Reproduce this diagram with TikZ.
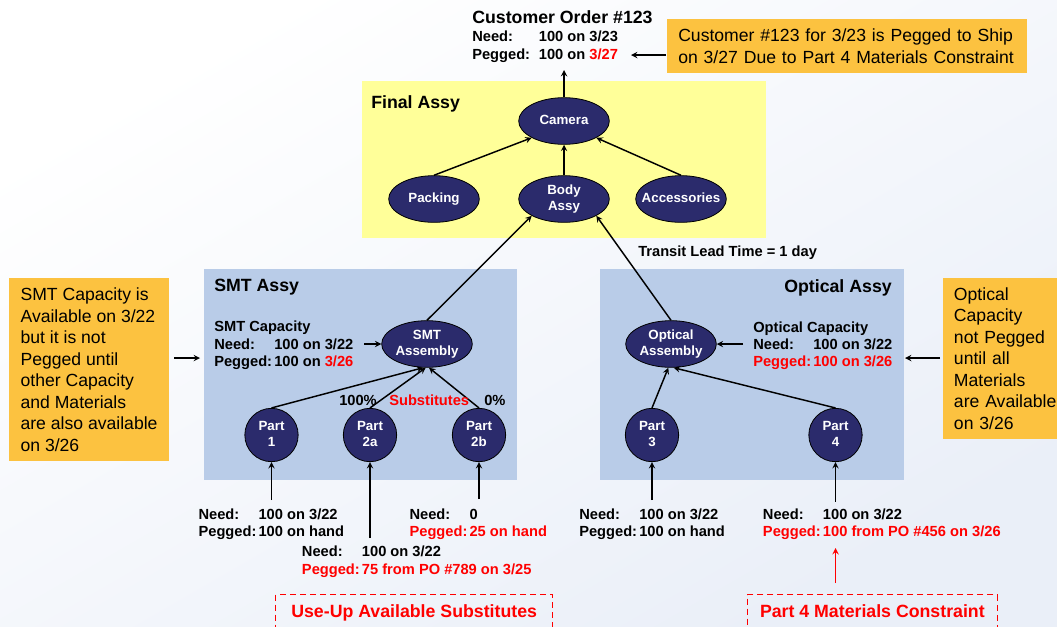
\documentclass[tikz,border=0pt]{standalone}
\usepackage{fontspec}
\setmainfont{Liberation Sans}
\usetikzlibrary{positioning,shapes.geometric,arrows.meta}
\definecolor{navy}{RGB}{43,43,108}
\definecolor{notebg}{RGB}{252,194,64}
\definecolor{finalbg}{RGB}{255,255,153}
\definecolor{subbg}{RGB}{185,204,232}
\definecolor{flag}{RGB}{255,0,0}
\definecolor{paper}{RGB}{234,239,248}
\newcommand{\stack}[1]{\makebox[0pt]{\begin{tabular}{@{}c@{}}#1\end{tabular}}}
\newcommand{\hot}[1]{\textcolor{flag}{#1}}
\tikzset{>=stealth,
  item/.style={ellipse,draw=black,line width=0.6pt,fill=navy,text=white,inner sep=0pt,
    minimum width=68pt,minimum height=35pt,font=\bfseries\fontsize{10}{11.8}\selectfont},
  part/.style={circle,draw=black,line width=0.6pt,fill=navy,text=white,inner sep=0pt,
    minimum size=40pt,font=\bfseries\fontsize{10}{11.8}\selectfont},
  info/.style={anchor=base west,inner sep=0pt,font=\bfseries\fontsize{11}{13.1}\selectfont},
  title/.style={anchor=base west,inner sep=0pt,font=\bfseries\fontsize{13.3}{16}\selectfont},
  note/.style={fill=notebg,anchor=north west,align=left,inner xsep=8.25pt,
    font=\fontsize{13.2}{16.1}\selectfont},
  constraint/.style={draw=flag,line width=1pt,dash pattern=on 4.5pt off 3pt,text=flag,
    anchor=north west,font=\bfseries\fontsize{13.3}{16}\selectfont,
    text height=9.5pt,text depth=25pt,inner ysep=7.5pt},
  link/.style={->,line width=1.1pt}}
\begin{document}
\begin{tikzpicture}[x=0.75pt,y=-0.75pt]
\useasboundingbox (0,0) rectangle (1057,626);
\shade[top color=white,bottom color=paper,shading angle=30] (0,0) rectangle (1057,626);
% group boxes
\fill[finalbg] (362,81) rectangle (766,238);
\fill[subbg] (204,269) rectangle (517,480);
\fill[subbg] (600,269) rectangle (904,480);
\node[title] (finaltitle) at (371,108) {Final Assy};
\node[title] (smttitle) at (214,291.7) {SMT Assy};
\node[title,anchor=base east] (opttitle) at (892,292) {Optical Assy};
% customer order
\node[title] (order) at (472,23.3) {Customer Order \#123};
\node[info] (orderpeg) at (472,41.7) {\begin{tabular}[t]{@{}p{50pt}@{}l@{}}
Need: & 100 on 3/23\\[0.6pt] Pegged: & 100 on \hot{3/27}\end{tabular}};
\coordinate (ordertip) at (564,70);
% final assy
\node[item] (cam) at (564,121) {\stack{Camera}};
\node[item] (pack) at (434,199) {\stack{Packing}};
\node[item] (body) at (564,199) {\stack{Body\\Assy}};
\node[item] (acc) at (681,199) {\stack{Accessories}};
\draw[link] (cam) -- (ordertip);
\draw[link] (pack.north) -- (cam.south west);
\draw[link] (body) -- (cam);
\draw[link] (acc.north) -- (cam.south east);
\node[info] (transit) at (638,256.7) {Transit Lead Time = 1 day};
% SMT assy
\node[item] (smt) at (427,344) {\stack{SMT\\Assembly}};
\node[info] (smtcap) at (214,331.7) {\begin{tabular}[t]{@{}p{45pt}@{}l@{}}
\multicolumn{2}{@{}l@{}}{SMT Capacity}\\ Need: & 100 on 3/22\\ Pegged: & 100 on \hot{3/26}\end{tabular}};
\coordinate (smtcapend) at (364,344);
\draw[link] (smtcapend) -- (smt.west);
\node[part] (p1) at (271.5,435) {\stack{Part\\1}};
\node[part] (p2a) at (370,435) {\stack{Part\\2a}};
\node[part] (p2b) at (479,435) {\stack{Part\\2b}};
\draw[link] (p1.north) -- ([xshift=-3pt]smt.south);
\draw[link] (p2a.north) -- ([xshift=-1pt]smt.south);
\draw[link] (p2b.north) -- ([xshift=1.5pt]smt.south);
\draw[link] (smt.north) -- (body.south west);
\node[info] (pct100) at (339,405) {100\%};
\node[info,text=flag] (subst) at (389,405) {Substitutes};
\node[info] (pct0) at (484,405) {0\%};
% optical assy
\node[item] (opt) at (671,344) {\stack{Optical\\Assembly}};
\node[info] (optcap) at (753,332) {\begin{tabular}[t]{@{}p{45pt}@{}l@{}}
\multicolumn{2}{@{}l@{}}{Optical Capacity}\\ Need: & 100 on 3/22\\ \hot{Pegged:} & \hot{100 on 3/26}\end{tabular}};
\coordinate (optcapend) at (743,344);
\draw[link] (optcapend) -- (opt.east);
\node[part] (p3) at (652,435) {\stack{Part\\3}};
\node[part] (p4) at (835.5,435) {\stack{Part\\4}};
\draw[link] (p3.north) -- ([xshift=-2pt]opt.south);
\draw[link] (p4.north) -- ([xshift=2pt]opt.south);
\draw[link] (opt.north) -- (body.south east);
% part supply
\node[info] (p1info) at (198.3,519.3) {\begin{tabular}[t]{@{}p{45pt}@{}l@{}}
Need: & 100 on 3/22\\ Pegged: & 100 on hand\end{tabular}};
\node[info] (p2ainfo) at (301.7,556.7) {\begin{tabular}[t]{@{}p{45pt}@{}l@{}}
Need: & 100 on 3/22\\ \hot{Pegged:} & \hot{75 from PO \#789 on 3/25}\end{tabular}};
\node[info] (p2binfo) at (409.3,519.3) {\begin{tabular}[t]{@{}p{45pt}@{}l@{}}
Need: & 0\\ \hot{Pegged:} & \hot{25 on hand}\end{tabular}};
\node[info] (p3info) at (579,519.3) {\begin{tabular}[t]{@{}p{45pt}@{}l@{}}
Need: & 100 on 3/22\\ Pegged: & 100 on hand\end{tabular}};
\node[info] (p4info) at (762.7,519.3) {\begin{tabular}[t]{@{}p{45pt}@{}l@{}}
Need: & 100 on 3/22\\ \hot{Pegged:} & \hot{100 from PO \#456 on 3/26}\end{tabular}};
\coordinate (p1feed) at (271.5,500);
\coordinate (p2afeed) at (370,538);
\coordinate (p2bfeed) at (479,499);
\coordinate (p3feed) at (652,500);
\coordinate (p4feed) at (835.5,501.7);
\draw[link] (p1feed) -- (p1.south);
\draw[link] (p2afeed) -- (p2a.south);
\draw[link] (p2bfeed) -- (p2b.south);
\draw[link] (p3feed) -- (p3.south);
\draw[link] (p4feed) -- (p4.south);
% constraints
\node[constraint,minimum width=207.75pt] (useup) at (275,594) {Use-Up Available Substitutes};
\node[constraint,minimum width=187.5pt] (limit) at (746.7,594) {Part 4 Materials Constraint};
\coordinate (limitout) at (835.5,583);
\coordinate (limitin) at (835.5,548);
\draw[link,flag] (limitout) -- (limitin);
% notes
\node[note,text width=253pt,minimum height=40.3pt] (topnote) at (667,19)
  {Customer \#123 for 3/23 is Pegged to Ship\\on 3/27 Due to Part 4 Materials Constraint};
\node[note,minimum width=119.7pt,minimum height=137pt] (smtnote) at (9,278)
  {SMT Capacity is\\Available on 3/22\\but it is not\\Pegged until\\other Capacity\\and Materials\\are also available\\on 3/26};
\node[note,text width=110pt,minimum height=120.5pt] (optnote) at (942.7,278)
  {Optical\\Capacity\\not Pegged\\until all\\Materials\\are Available\\on 3/26};
\coordinate (topnoteout) at (666,55);
\coordinate (toppegin) at (631,55);
\coordinate (smtnoteout) at (174,358);
\coordinate (smtboxin) at (200,358);
\coordinate (optnoteout) at (940,358);
\coordinate (optboxin) at (905,358);
\draw[link] (topnoteout) -- (toppegin);
\draw[link] (smtnoteout) -- (smtboxin);
\draw[link] (optnoteout) -- (optboxin);
\end{tikzpicture}
\end{document}
